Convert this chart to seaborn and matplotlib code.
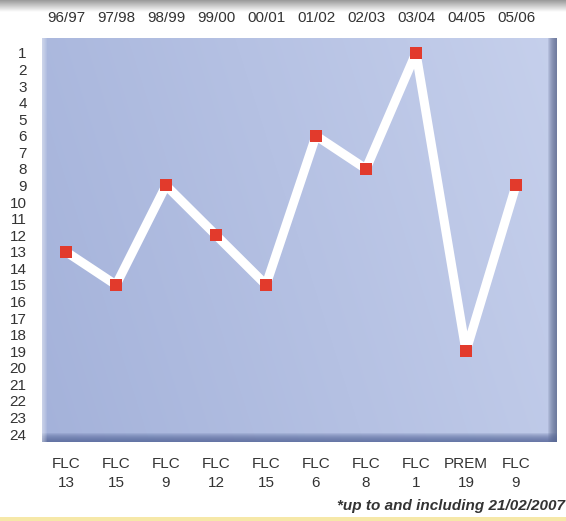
import numpy as np
import pandas as pd
import seaborn as sns
import matplotlib.pyplot as plt
from matplotlib.colors import to_rgb

seasons = ["96/97", "97/98", "98/99", "99/00", "00/01", "01/02", "02/03", "03/04", "04/05", "05/06"]
divisions = ["FLC", "FLC", "FLC", "FLC", "FLC", "FLC", "FLC", "FLC", "PREM", "FLC"]
positions = [13, 15, 9, 12, 15, 6, 8, 1, 19, 9]
rank_ticks = list(range(1, 25))

df = pd.DataFrame({"idx": range(len(seasons)), "pos": positions})

sns.set_style("white")
plt.rcParams["font.family"] = ["Liberation Sans Narrow", "Liberation Sans", "DejaVu Sans"]

W, H = 566, 521
fig = plt.figure(figsize=(W / 100, H / 100), dpi=100)

# panel geometry in pixels
px0, px1, py0, py1 = 42, 557, 38, 442
pw, ph = px1 - px0, py1 - py0
ax = fig.add_axes([px0 / W, 1 - py1 / H, pw / W, ph / H])
xlim = (-0.48, 9.82)
ylim = (24.48, 0.1)

# blue gradient background
xx, yy = np.meshgrid(np.linspace(0, 1, pw), np.linspace(0, 1, ph))
c_left = np.array(to_rgb("#a4b2da"))
c_right = np.array(to_rgb("#c6d0ec"))
t = np.clip(0.8 * xx + 0.2 * (1 - yy), 0, 1)[..., None]
img = c_left * (1 - t) + c_right * t
ax.imshow(img, extent=[xlim[0], xlim[1], ylim[0], ylim[1]], origin="upper",
          aspect="auto", zorder=0)

# bevel: darker right and bottom edges, light left edge
for k in range(1, 10):
    ax.add_patch(plt.Rectangle((1 - k / pw, 0), k / pw, 1, transform=ax.transAxes,
                               color="#5d6a8e", alpha=0.16, lw=0, zorder=1))
    ax.add_patch(plt.Rectangle((0, 0), 1, k / ph, transform=ax.transAxes,
                               color="#56679a", alpha=0.16, lw=0, zorder=1))
for k in range(1, 6):
    ax.add_patch(plt.Rectangle((0, 0), k / pw, 1, transform=ax.transAxes,
                               color="white", alpha=0.1, lw=0, zorder=1))

sns.lineplot(data=df, x="idx", y="pos", ax=ax, color="white", linewidth=6.5,
             marker="s", markersize=8.5, markerfacecolor="#e23a2c",
             markeredgewidth=0, zorder=3)

ax.set_xlim(*xlim)
ax.set_ylim(*ylim)
ax.set_xlabel("")
ax.set_ylabel("")
for s in ax.spines.values():
    s.set_visible(False)

ax.set_yticks(rank_ticks)
ax.set_yticklabels([str(r) for r in rank_ticks], fontsize=11, color="#333333")
ax.tick_params(axis="y", length=0, pad=11)

ax.xaxis.tick_top()
ax.set_xticks(range(len(seasons)))
ax.set_xticklabels(seasons, fontsize=11, color="#333333")
ax.tick_params(axis="x", length=0, pad=9)

sec = ax.secondary_xaxis("bottom")
sec.set_xticks(range(len(seasons)))
sec.set_xticklabels([f"{d}\n{p}" for d, p in zip(divisions, positions)],
                    fontsize=11, color="#333333", linespacing=1.45)
sec.tick_params(length=0, pad=11)
for s in sec.spines.values():
    s.set_visible(False)

# grey band at the top of the scan
top = fig.add_axes([0, 1 - 12 / H, 1, 12 / H])
top_img = np.linspace(0.6, 1.0, 50)[:, None, None] * np.ones((50, 1, 3))
top.imshow(top_img, aspect="auto", extent=[0, 1, 0, 1])
top.axis("off")

# pale yellow strip at the bottom
fig.patches.append(plt.Rectangle((0, 0), 1, 4 / H, transform=fig.transFigure,
                                 color="#f6e8a8", lw=0))

fig.text(0.999, 1 - 506 / H, "*up to and including 21/02/2007", ha="right",
         va="center", fontsize=11, fontweight="bold", fontstyle="italic",
         color="#333333", family=["Liberation Sans", "DejaVu Sans"])

fig.savefig("out.png", dpi=100, facecolor="white")
